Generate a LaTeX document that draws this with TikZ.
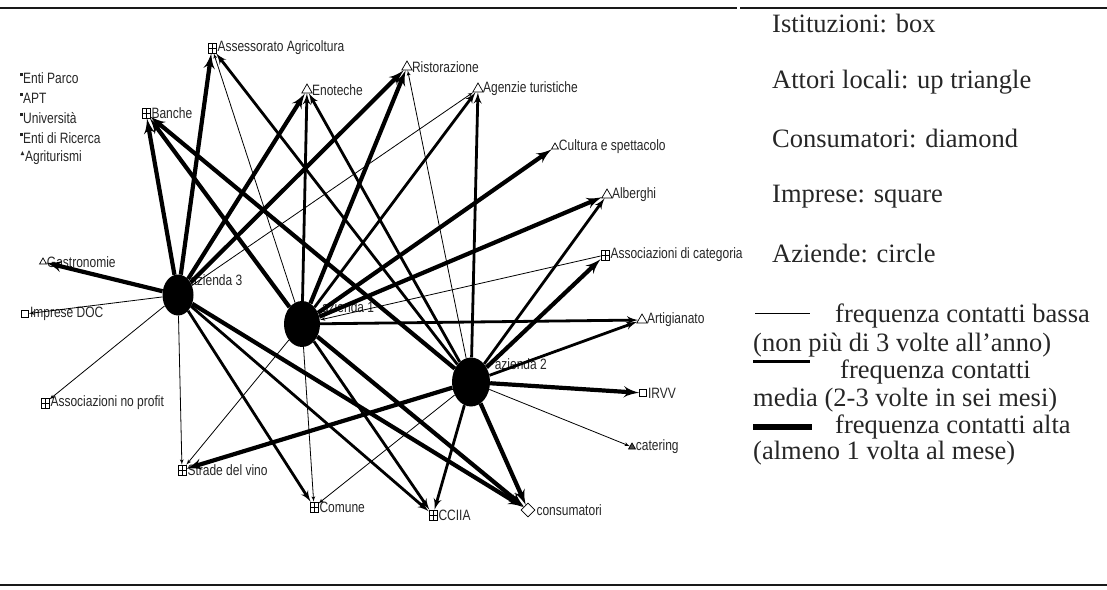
\documentclass[tikz,border=0pt]{standalone}
\usepackage{amssymb}
\usepackage{graphicx}
\usepackage{fontspec}
\setmainfont{Liberation Serif}
\newfontfamily\netfont[FakeStretch=0.8]{Liberation Sans}
\usetikzlibrary{shapes.geometric, arrows, positioning, calc}

\begin{document}
\begin{tikzpicture}[x=1pt, y=-1pt, >=latex']
    \tikzstyle{every label} = [font=\netfont\fontsize{15}{17}\selectfont, inner sep=1pt, text=black!85]
    \tikzstyle{istit} = [rectangle, draw, fill=white, line width=0.7pt, minimum width=8pt, minimum height=10pt, inner sep=0pt, path picture={\draw[line width=0.6pt] (path picture bounding box.west) -- (path picture bounding box.east) (path picture bounding box.north) -- (path picture bounding box.south);}]
    \tikzstyle{attore} = [regular polygon, regular polygon sides=3, draw, fill=white, line width=0.7pt, minimum size=12pt, inner sep=0pt]
    \tikzstyle{piccolo} = [regular polygon, regular polygon sides=3, draw, fill=white, line width=0.7pt, minimum size=8pt, inner sep=0pt]
    \tikzstyle{consumo} = [diamond, draw, fill=white, line width=0.7pt, minimum size=14pt, inner sep=0pt]
    \tikzstyle{impresa} = [rectangle, draw, fill=white, line width=0.7pt, minimum size=7pt, inner sep=0pt]
    \tikzstyle{azienda} = [ellipse, fill=black, inner sep=0pt]
    \tikzstyle{legtxt} = [font=\fontsize{26.5}{30}\selectfont, inner sep=0pt, anchor=west, text=black!85]
    \tikzstyle{listtxt} = [font=\netfont\fontsize{15}{17}\selectfont, inner sep=0pt, anchor=west, text=black!85]
    \tikzstyle{bassa} = [draw, ->, line width=0.8pt]
    \tikzstyle{media} = [draw, ->, line width=2.8pt]
    \tikzstyle{alta} = [draw, ->, line width=4.2pt]

    \useasboundingbox (0,0) rectangle (1107,589);
    \draw[line width=2.2pt, black!90] (0,8) -- (737,8);
    \draw[line width=2.2pt, black!90] (740,8) -- (1107,8);
    \draw[line width=2.6pt, black!90] (0,585) -- (1107,585);

    % aziende
    \node [azienda, minimum width=31pt, minimum height=41pt, label={[anchor=west]north east:azienda 3}] (az3) at (178,295) {};
    \node [azienda, minimum width=36pt, minimum height=46pt, label={[anchor=west, xshift=6pt]north east:azienda 1}] (az1) at (302,324) {};
    \node [azienda, minimum width=38pt, minimum height=49pt, label={[anchor=west, xshift=9pt]north east:azienda 2}] (az2) at (471,382) {};

    % attori
    \node [istit, label=right:Assessorato Agricoltura] (assess) at (212,48) {};
    \node [attore, label=right:Enoteche] (enoteche) at (307,90) {};
    \node [attore, label=right:Ristorazione] (ristoraz) at (407,67) {};
    \node [attore, label=right:Agenzie turistiche] (agenzie) at (478,89) {};
    \node [istit, label=right:Banche] (banche) at (146,113) {};
    \node [piccolo, label=right:Cultura e spettacolo] (cultura) at (555,147) {};
    \node [attore, label=right:Alberghi] (alberghi) at (607,195) {};
    \node [istit, label=right:Associazioni di categoria] (asscat) at (605,255) {};
    \node [attore, label=right:Artigianato] (artig) at (642,320) {};
    \node [impresa, label=right:IRVV] (irvv) at (643,393) {};
    \node [piccolo, fill=black!70, label=right:catering] (catering) at (632,447) {};
    \node [consumo, label=right:consumatori] (consum) at (528,510) {};
    \node [istit, label=right:CCIIA] (cciia) at (433,515) {};
    \node [istit, label=right:Comune] (comune) at (314,507) {};
    \node [istit, label=right:Strade del vino] (strade) at (182,470) {};
    \node [istit, label=right:Associazioni no profit] (noprofit) at (45,403) {};
    \node [impresa, label=right:Imprese DOC] (impdoc) at (25,314) {};
    \node [piccolo, label=right:Gastronomie] (gastro) at (43,262) {};

    % attori non collegati
    \node [listtxt] (parco) at (20,78) {\rule[7pt]{3pt}{3pt}Enti Parco};
    \node [listtxt] (apt) at (20,98) {\rule[7pt]{3pt}{3pt}APT};
    \node [listtxt] (univ) at (20,118) {\rule[7pt]{3pt}{3pt}Università};
    \node [listtxt] (ricerca) at (20,138) {\rule[7pt]{3pt}{3pt}Enti di Ricerca};
    \node [listtxt] (agritur) at (20,158) {\raisebox{6pt}{\scalebox{0.45}{$\blacktriangle$}}Agriturismi};

    % azienda 3
    \path [alta] (az3) -- (banche);
    \path [alta] (az3) -- (assess);
    \path [alta] (az3) -- (enoteche);
    \path [alta] (az3) -- (ristoraz);
    \path [bassa] (az3) -- (agenzie);
    \path [alta] (az3) -- (gastro);
    \path [bassa] (az3) -- (impdoc);
    \path [bassa] (az3) -- (noprofit);
    \path [bassa] (az3) -- (strade);
    \path [media] (az3) -- (comune);
    \path [media] (az3) -- (cciia);
    \path [alta] (az3) -- (consum);
    % azienda 1
    \path [alta] (az1) -- (banche);
    \path [bassa] (az1) -- (assess);
    \path [media] (az1) -- (enoteche);
    \path [alta] (az1) -- (ristoraz);
    \path [media] (az1) -- (agenzie);
    \path [alta] (az1) -- (cultura);
    \path [alta] (az1) -- (alberghi);
    \path [bassa] (asscat) -- (az1);
    \path [media] (az1) -- (artig);
    \path [bassa] (az1) -- (strade);
    \path [bassa] (az1) -- (comune);
    \path [media] (az1) -- (cciia);
    \path [alta] (az1) -- (consum);
    % azienda 2
    \path [alta] (az2) -- (banche);
    \path [media] (az2) -- (assess);
    \path [media] (az2) -- (enoteche);
    \path [bassa] (az2) -- (ristoraz);
    \path [media] (az2) -- (agenzie);
    \path [media] (az2) -- (alberghi);
    \path [alta] (az2) -- (asscat);
    \path [media] (az2) -- (artig);
    \path [alta] (az2) -- (irvv);
    \path [bassa] (az2) -- (catering);
    \path [alta] (az2) -- (consum);
    \path [media] (az2) -- (cciia);
    \path [bassa] (az2) -- (comune);
    \path [alta] (az2) -- (strade);

    % legenda
    \node [legtxt] (ist) at (772,23) {Istituzioni: box};
    \node [legtxt] (att) at (772,82) {Attori locali: up triangle};
    \node [legtxt] (cons) at (772,138) {Consumatori: diamond};
    \node [legtxt] (impr) at (772,197) {Imprese: square};
    \node [legtxt] (azi) at (772,253) {Aziende: circle};
    \draw [line width=1pt] (755,313) -- (810,313);
    \node [legtxt] (bassa1) at (835,316) {frequenza contatti bassa};
    \node [legtxt] (bassa2) at (753,345) {(non più di 3 volte all’anno)};
    \draw [line width=3pt] (753,361) -- (810,361);
    \node [legtxt] (media1) at (840,372) {frequenza contatti};
    \node [legtxt] (media2) at (753,400) {media (2-3 volte in sei mesi)};
    \draw [line width=6pt] (753,427) -- (812,427);
    \node [legtxt] (alta1) at (835,427) {frequenza contatti alta};
    \node [legtxt] (alta2) at (753,453) {(almeno 1 volta al mese)};
\end{tikzpicture}
\end{document}
